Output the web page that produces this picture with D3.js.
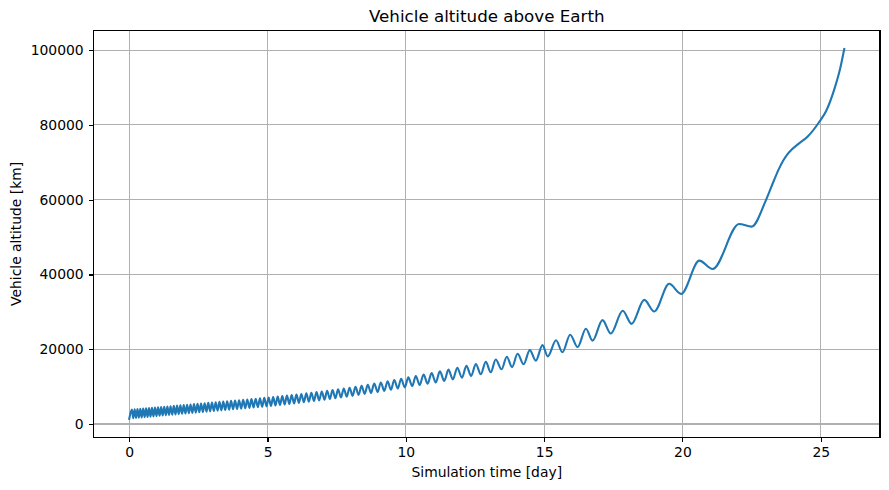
<!DOCTYPE html>
<meta charset="utf-8">
<head>

<style>
body {
  margin: 0;
  background: #fff;
}
text {
  font-family: "DejaVu Sans", sans-serif;
  fill: #000;
}
.grid line {
  stroke: #b0b0b0;
  stroke-width: 1.1px;
  shape-rendering: crispEdges;
}
.axis path {
  display: none;
}
.axis line {
  stroke: #000;
  stroke-width: 1.1px;
  shape-rendering: crispEdges;
}
.axis text {
  font-size: 13.9px;
}
.spine {
  fill: none;
  stroke: #000;
  stroke-width: 1.1px;
  shape-rendering: crispEdges;
}
.path {
  fill: none;
  stroke: #1f77b4;
  stroke-width: 2.1px;
  stroke-linejoin: round;
  stroke-linecap: square;
}
</style>

<script src="https://d3js.org/d3.v7.min.js"></script>

</head>
<body>

<div id="chart"></div>

<script>

//// Data: orbit apoapsis / periapsis points, then the final climb
var peakDay = [
  0.094, 0.195, 0.297, 0.400, 0.504, 0.609, 0.715, 0.822, 0.931, 1.041,
  1.152, 1.265, 1.379, 1.494, 1.611, 1.729, 1.849, 1.970, 2.092, 2.216,
  2.341, 2.468, 2.596, 2.726, 2.857, 2.990, 3.125, 3.261, 3.399, 3.539,
  3.681, 3.825, 3.971, 4.118, 4.267, 4.418, 4.571, 4.726, 4.883, 5.042,
  5.203, 5.367, 5.533, 5.701, 5.872, 6.045, 6.222, 6.402, 6.585, 6.771,
  6.961, 7.154, 7.351, 7.551, 7.756, 7.966, 8.18, 8.40, 8.625, 8.857,
  9.095, 9.34, 9.58, 9.83, 10.09, 10.36, 10.64, 10.93, 11.23, 11.54,
  11.86, 12.19, 12.53, 12.89, 13.25, 13.65, 14.04, 14.48, 14.94, 15.43,
  15.94, 16.51, 17.11, 17.84, 18.62, 19.52, 20.61, 22.05
];
var peakKm = [
  3900, 3970, 4040, 4100, 4160, 4230, 4280, 4350, 4410, 4480,
  4550, 4620, 4700, 4770, 4850, 4920, 5000, 5080, 5160, 5240,
  5320, 5400, 5490, 5570, 5660, 5740, 5830, 5920, 6010, 6100,
  6190, 6290, 6380, 6480, 6580, 6680, 6780, 6880, 6990, 7110,
  7230, 7360, 7490, 7610, 7750, 7890, 8050, 8210, 8380, 8540,
  8720, 8900, 9100, 9300, 9510, 9720, 9970, 10240, 10520, 10820,
  11130, 11460, 11780, 12120, 12470, 12850, 13240, 13650, 14090, 14560,
  15040, 15550, 16070, 16630, 17260, 18010, 18780, 19780, 21100, 22400,
  23900, 25500, 27800, 30300, 33200, 37500, 43700, 53500
];

var troughDay = [
  0, 0.145, 0.246, 0.349, 0.452, 0.557, 0.662, 0.769, 0.877, 0.986,
  1.097, 1.209, 1.322, 1.437, 1.553, 1.670, 1.789, 1.910, 2.031, 2.154,
  2.279, 2.405, 2.532, 2.661, 2.792, 2.924, 3.058, 3.193, 3.330, 3.469,
  3.610, 3.753, 3.898, 4.045, 4.193, 4.343, 4.495, 4.649, 4.805, 4.963,
  5.123, 5.285, 5.450, 5.617, 5.787, 5.959, 6.134, 6.312, 6.494, 6.678,
  6.866, 7.058, 7.253, 7.451, 7.654, 7.861, 8.073, 8.29, 8.51, 8.74,
  8.98, 9.22, 9.46, 9.71, 9.96, 10.23, 10.50, 10.79, 11.08, 11.39,
  11.70, 12.03, 12.36, 12.71, 13.07, 13.46, 13.84, 14.26, 14.70, 15.13,
  15.66, 16.21, 16.75, 17.41, 18.16, 18.98, 19.95, 21.09, 22.50
];
var troughKm = [
  1400, 1550, 1610, 1680, 1740, 1820, 1890, 1970, 2040, 2130,
  2210, 2290, 2360, 2430, 2510, 2590, 2660, 2740, 2820, 2900,
  2980, 3060, 3150, 3230, 3320, 3400, 3490, 3580, 3660, 3750,
  3850, 3940, 4030, 4120, 4220, 4320, 4420, 4510, 4610, 4710,
  4830, 4960, 5090, 5230, 5380, 5520, 5670, 5830, 6000, 6160,
  6330, 6510, 6700, 6900, 7100, 7310, 7520, 7780, 8040, 8300,
  8580, 8870, 9160, 9490, 9810, 10120, 10440, 10780, 11120, 11530,
  11940, 12390, 12860, 13300, 13850, 14650, 15250, 16000, 16950, 18100,
  19200, 20600, 22300, 24200, 26800, 30100, 34800, 41450, 52800
];

var tailDay = [23.02, 23.30, 23.48, 23.64, 23.80, 23.95, 24.17, 24.53, 24.95, 25.20, 25.49, 25.70, 25.85];
var tailKm  = [59900, 65000, 68100, 70400, 72200, 73400, 74800, 76900, 80840, 83800, 89500, 95000, 100300];

var xTicks = [0, 5, 10, 15, 20, 25];
var yTicks = [0, 20000, 40000, 60000, 80000, 100000];


var margin = {top: 30.5, right: 9, bottom: 52.7, left: 93.5},
  width = 889 - margin.left - margin.right,
  height = 490 - margin.top - margin.bottom;

var root = d3.select("#chart").append("svg")
  .attr("width", 889)
  .attr("height", 490);

var svg = root.append("g")
  .attr("transform", "translate(" + margin.left + "," + margin.top + ")");


//// one time-ordered series
var dataReady = [];
peakDay.forEach(function(d, i) { dataReady.push({time: d, value: peakKm[i]}); });
troughDay.forEach(function(d, i) { dataReady.push({time: d, value: troughKm[i]}); });
tailDay.forEach(function(d, i) { dataReady.push({time: d, value: tailKm[i]}); });
dataReady.sort(function(a, b) { return a.time - b.time; });


//// matplotlib style 5% margins
function padded(ext) {
  var r = ext[1] - ext[0];
  return [ext[0] - 0.05 * r, ext[1] + 0.05 * r];
}

var xAxis = d3.scaleLinear()
  .domain(padded(d3.extent(dataReady, function(d) { return d.time; })))
  .range([0, width]);

var yAxis = d3.scaleLinear()
  .domain(padded(d3.extent(dataReady, function(d) { return d.value; })))
  .range([height, 0]);


////grid
svg.append("g")
  .attr("class", "grid")
  .selectAll("line.v")
  .data(xTicks)
  .enter().append("line")
    .attr("x1", function(d) { return xAxis(d); })
    .attr("x2", function(d) { return xAxis(d); })
    .attr("y1", 0)
    .attr("y2", height);
svg.append("g")
  .attr("class", "grid")
  .selectAll("line.h")
  .data(yTicks)
  .enter().append("line")
    .attr("y1", function(d) { return yAxis(d); })
    .attr("y2", function(d) { return yAxis(d); })
    .attr("x1", 0)
    .attr("x2", width);


////the altitude line
svg.append("clipPath")
  .attr("id", "clip")
  .append("rect")
    .attr("width", width)
    .attr("height", height);

var line = d3.line()
  .curve(d3.curveMonotoneX)
  .x(function(d) { return xAxis(d.time); })
  .y(function(d) { return yAxis(d.value); });

svg.append("path")
  .datum(dataReady)
  .attr("class", "path")
  .attr("clip-path", "url(#clip)")
  .attr("d", line);


////axes + frame
svg.append("g")
  .attr("class", "axis xAxis")
  .attr("transform", "translate(0," + height + ")")
  .call(d3.axisBottom(xAxis).tickValues(xTicks).tickSize(4.9).tickPadding(4.9));

svg.append("g")
  .attr("class", "axis yAxis")
  .call(d3.axisLeft(yAxis).tickValues(yTicks).tickSize(4.9).tickPadding(4.9).tickFormat(d3.format("d")));

svg.append("rect")
  .attr("class", "spine")
  .attr("width", width)
  .attr("height", height);


////labels
root.append("text")
  .attr("x", margin.left + width / 2)
  .attr("y", 22)
  .attr("text-anchor", "middle")
  .style("font-size", "16.7px")
  .text("Vehicle altitude above Earth");

root.append("text")
  .attr("x", margin.left + width / 2)
  .attr("y", 476.5)
  .attr("text-anchor", "middle")
  .style("font-size", "13.9px")
  .text("Simulation time [day]");

root.append("text")
  .attr("transform", "rotate(-90)")
  .attr("x", -(margin.top + height / 2))
  .attr("y", 21)
  .attr("text-anchor", "middle")
  .style("font-size", "13.9px")
  .text("Vehicle altitude [km]");

</script>

</body>
</html>
